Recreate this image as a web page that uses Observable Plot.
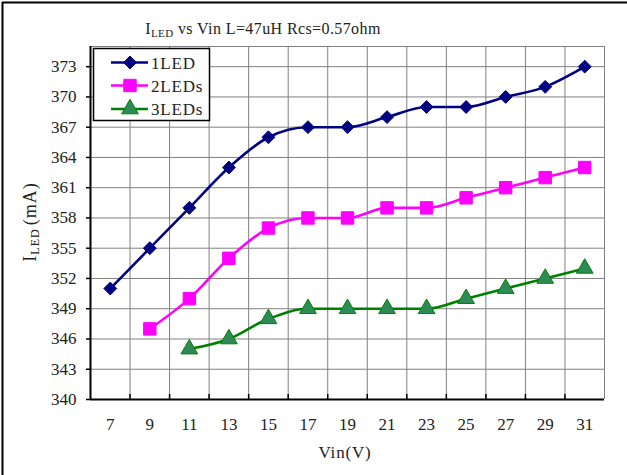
<!DOCTYPE html>
<html><head><meta charset="utf-8">
<script src="https://cdn.jsdelivr.net/npm/d3@7"></script>
<script src="https://cdn.jsdelivr.net/npm/@observablehq/plot@0.6"></script>
<style>
body{margin:0;background:#fff;}
#wrap{position:relative;width:627px;height:475px;overflow:hidden;}
</style>
</head><body><div id="wrap"></div>
<script>
const vin = [7,9,11,13,15,17,19,21,23,25,27,29,31];
const led1 = [351,355,359,363,366,367,367,368,369,369,370,371,373];
const led2 = [null,347,350,354,357,358,358,359,359,360,361,362,363];
const led3 = [null,null,345,346,348,349,349,349,349,350,351,352,353];
const seriesNames = ["1LED","2LEDs","3LEDs"];
const yTicks = [340,343,346,349,352,355,358,361,364,367,370,373];
const yMax = 375;
const titleMain = "I";
const titleSub = "LED";
const titleRest = " vs Vin L=47uH Rcs=0.57ohm";
const xLabel = "Vin(V)";
const yLabelSub = "LED";
const yLabelRest = "(mA)";

const styles = [
  {stroke:"#000080", fill:"#000080", symbol:"diamond2", r:5.8},
  {stroke:"#FF00FF", fill:"#FF00FF", symbol:"square", r:7.0},
  {stroke:"#008000", fill:"#2E8B57", symbol:"triangle", r:6.2}
];
const seriesVals = [led1, led2, led3];
const rowsBySeries = seriesVals.map((vals,i)=>vals.map((v,j)=>({vin:vin[j], value:v, series:seriesNames[i]})).filter(d=>d.value!=null));
const bounds = vin.map(v=>v-1).concat([vin[vin.length-1]+1]);

const font = "'Liberation Serif', 'DejaVu Serif', serif";
const marks = [
  Plot.ruleY(yTicks.filter(t=>t>yTicks[0]).concat([yMax]), {stroke:"#808080", strokeWidth:1, strokeOpacity:1}),
  Plot.ruleX(bounds.slice(1), {stroke:"#808080", strokeWidth:1, strokeOpacity:1}),
  Plot.ruleX(bounds.slice(1,-1), {y1:yTicks[0], y2:yTicks[0], insetTop:-5, stroke:"#000", strokeWidth:1.5}),
  Plot.ruleX([bounds[0]], {stroke:"#000", strokeWidth:2}),
  Plot.ruleY([yTicks[0]], {stroke:"#000", strokeWidth:2}),
  Plot.axisX({ticks: vin, tickSize:0, tickPadding:18, label:null, fontSize:17}),
  Plot.axisY({ticks: yTicks, tickSize:4, tickPadding:10, label:null, fontSize:17, stroke:"#000", strokeWidth:1.5})
];
rowsBySeries.forEach((rows,i)=>{
  const s = styles[i];
  marks.push(Plot.line(rows, {x:"vin", y:"value", stroke:s.stroke, strokeWidth:2.6, curve:"monotone-x"}));
});
rowsBySeries.forEach((rows,i)=>{
  const s = styles[i];
  marks.push(Plot.dot(rows, {x:"vin", y:"value", symbol:s.symbol, fill:s.fill, stroke:s.stroke, strokeWidth:1, r:s.r}));
});

const chart = Plot.plot({
  width:627, height:475,
  marginLeft:90, marginRight:23, marginTop:46, marginBottom:76,
  style:{fontFamily:font, fontSize:"17px", color:"#222", background:"#fff", overflow:"visible"},
  x:{type:"linear", domain:[bounds[0], bounds[bounds.length-1]]},
  y:{type:"linear", domain:[yTicks[0], yMax]},
  marks
});
document.getElementById("wrap").appendChild(chart);

const svg = d3.select(chart);
// outer border (left & top)
svg.append("line").attr("x1",2.5).attr("x2",2.5).attr("y1",2).attr("y2",475).attr("stroke","#000").attr("stroke-width",2);
svg.append("line").attr("x1",2).attr("x2",627).attr("y1",2.5).attr("y2",2.5).attr("stroke","#000").attr("stroke-width",2);

// title
const t = svg.append("text").attr("x",263).attr("y",34).attr("text-anchor","middle")
  .style("font-family",font).style("font-size","16px").style("letter-spacing","0.4px").attr("fill","#222");
t.append("tspan").text(titleMain);
t.append("tspan").attr("dy",3).style("font-size","11px").text(titleSub);
t.append("tspan").attr("dy",-3).text(titleRest);

// x label
svg.append("text").attr("x",345).attr("y",458).attr("text-anchor","middle")
  .style("font-family",font).style("font-size","17px").style("letter-spacing","0.8px").attr("fill","#222").text(xLabel);

// y label
const yl = svg.append("text").attr("transform","translate(36,222) rotate(-90)").attr("text-anchor","middle")
  .style("font-family",font).style("font-size","18px").style("letter-spacing","1px").attr("fill","#222");
yl.append("tspan").text(titleMain);
yl.append("tspan").attr("dy",3).style("font-size","12px").text(yLabelSub);
yl.append("tspan").attr("dy",-3).attr("dx",3).text(yLabelRest);

// legend
const lg = svg.append("g");
lg.append("rect").attr("x",93.5).attr("y",48.5).attr("width",116).attr("height",72)
  .attr("fill","#fff").attr("stroke","#000").attr("stroke-width",1.5);
const symMap = {diamond2:d3.symbolDiamond2, square:d3.symbolSquare, triangle:d3.symbolTriangle};
const rowY = [62.5, 85.5, 109];
seriesNames.forEach((name,i)=>{
  const s = styles[i], y = rowY[i];
  lg.append("line").attr("x1",111).attr("x2",148).attr("y1",y).attr("y2",y).attr("stroke",s.stroke).attr("stroke-width",2.6);
  lg.append("path").attr("transform",`translate(130,${y})`)
    .attr("d", d3.symbol(symMap[s.symbol], Math.PI*s.r*s.r)())
    .attr("fill",s.fill).attr("stroke",s.stroke).attr("stroke-width",1);
  lg.append("text").attr("x",151).attr("y",y+6).attr("text-anchor","start").style("font-family",font).style("font-size","17px")
    .style("letter-spacing","0.8px").attr("fill","#222").text(name);
});
</script>
</body></html>
